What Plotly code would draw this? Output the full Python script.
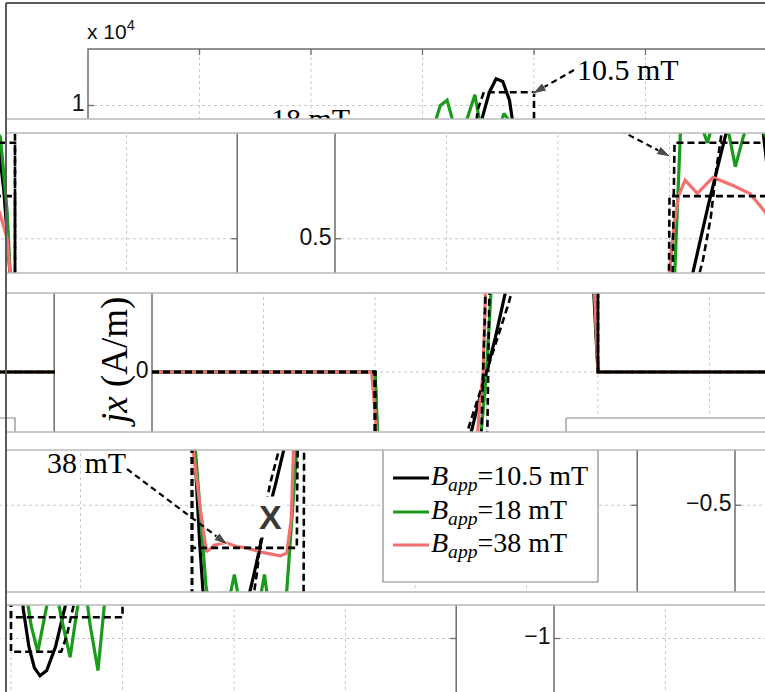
import plotly.graph_objects as go

# ------------------------------------------------------------------ data
x_grid_vals = [-2, -1, 0, 1, 2]
x_tick_vals = [-3, -2, -1, 0, 1, 2, 3]
y_tick_vals = [1, 0.5, 0, -0.5, -1]
y_tick_text = ["1", "0.5", "0", "\u22120.5", "\u22121"]

# simulated jx (x 1e4 A/m) versus position
sim105_x = [-3.0, -1.0, -0.975, -0.93, -0.89, -0.84, -0.79, -0.74, -0.68, -0.6, -0.52, -0.45, -0.35, -0.25,
            -0.17, -0.08, 0.0, 0.08, 0.17, 0.25, 0.35, 0.45, 0.52, 0.6, 0.66, 0.72, 0.78, 0.84, 0.9, 0.95,
            0.98, 1.0, 3.0]
sim105_j = [0.0, 0.0, -0.3, -0.65, -0.89, -1.03, -1.11, -1.14, -1.12, -1.03, -0.89, -0.77, -0.58, -0.42,
            -0.28, -0.13, 0.0, 0.13, 0.3, 0.45, 0.63, 0.8, 0.93, 1.05, 1.1, 1.09, 1.02, 0.9, 0.68, 0.4,
            0.15, 0.0, 0.0]

sim18_x = [-3.0, -1.0, -0.97, -0.92, -0.875, -0.82, -0.76, -0.69, -0.62, -0.55, -0.47, -0.41, -0.35, -0.29,
           -0.22, -0.15, -0.06, 0.0, 0.04, 0.07, 0.1, 0.16, 0.22, 0.28, 0.34, 0.4, 0.47, 0.53, 0.59, 0.66,
           0.73, 0.8, 0.87, 0.93, 0.97, 1.0, 3.0]
sim18_j = [0.0, 0.0, -0.29, -0.55, -0.8, -0.95, -1.05, -0.9, -0.76, -0.92, -1.07, -0.9, -0.76, -0.95,
           -1.12, -0.82, -0.29, 0.0, 0.3, 0.65, 0.92, 1.0, 1.02, 0.93, 0.86, 0.95, 1.04, 0.9, 0.77, 0.88,
           0.97, 0.93, 0.88, 0.6, 0.3, 0.0, 0.0]

sim38_x = [-3.0, -1.03, -1.0, -0.99, -0.93, -0.87, -0.8, -0.7, -0.6, -0.51, -0.39, -0.28, -0.21, -0.15,
           -0.11, -0.09, -0.06, -0.03, -0.01, 0.0, 0.04, 0.08, 0.14, 0.25, 0.39, 0.57, 0.72, 0.86, 0.93,
           0.97, 1.0, 3.0]
sim38_j = [0.0, 0.0, -0.15, -0.29, -0.5, -0.675, -0.65, -0.64, -0.655, -0.66, -0.675, -0.685, -0.69, -0.68,
           -0.55, -0.29, -0.12, 0.0, 0.3, 0.37, 0.55, 0.66, 0.72, 0.67, 0.73, 0.7, 0.67, 0.6, 0.5,
           0.3, 0.0, 0.0]

# critical-state (dashed) profiles
bean105_x = [-3.0, -1.0, -1.0, -0.55, -0.5, -0.46, -0.42, -0.37, -0.3, -0.2, -0.1, 0.0, 0.1, 0.2, 0.3,
             0.37, 0.42, 0.46, 0.5, 0.55, 1.0, 1.0, 3.0]
bean105_j = [0.0, 0.0, -1.05, -1.05, -0.99, -0.88, -0.76, -0.58, -0.42, -0.26, -0.13, 0.0, 0.13, 0.26, 0.42,
             0.58, 0.76, 0.88, 0.99, 1.05, 1.05, 0.0, 0.0]
bean18_x = [-3.0, -1.0, -1.0, 0.0, 0.005, 0.025, 0.045, 1.0, 1.0, 3.0]
bean18_j = [0.0, 0.0, -0.92, -0.92, -0.3, 0.3, 0.86, 0.86, 0.0, 0.0]
bean38_x = [-3.0, -1.0, -1.0, -0.06, -0.055, -0.04, -0.02, -0.005, 0.0, 1.0, 1.0, 3.0]
bean38_j = [0.0, 0.0, -0.66, -0.66, -0.35, -0.12, 0.12, 0.35, 0.66, 0.66, 0.0, 0.0]

legend_labels = ["<i>B</i><sub><i>app</i></sub>=10.5 mT",
                 "<i>B</i><sub><i>app</i></sub>=18 mT",
                 "<i>B</i><sub><i>app</i></sub>=38 mT"]
field_labels = ["10.5 mT", "18 mT", "38 mT"]
y_label = "<i>jx</i> (A/m)"
exponent_label = "x 10<sup>4</sup>"

# ------------------------------------------------------------------ styling / geometry
BLACK = "#000000"
GREEN = "#1c9a1c"
RED = "#f27070"
AXC = "#6e6e6e"
GRIDC = "#c9c9c9"
SEPC = "#b9b9b9"
SERIF = "Liberation Serif"
SANS = "Liberation Sans"

W, H = 765, 692
PERIOD = 766.0          # width of the original (unshifted) picture
U_ZERO = 431.5          # pixel column of x = 0 in the original
U_PER_X = 111.5
Y_ZERO = 372.0          # pixel row of jx = 0
Y_PER_J = 266.5


def ux(u):
    return (u - U_ZERO) / U_PER_X


def yj(y):
    return (Y_ZERO - y) / Y_PER_J


J_TOP = yj(49)
J_BOT = yj(696)
X_LEFT = -3.0
X_RIGHT = ux(765.2)

# horizontal strips: (top px, bottom px, pieces [(x0, x1, u0, u1)], right border drawn)
STRIPS = [
    (4, 119, [(0, W, 9, 9 + W)], False),
    (133, 273, [(0, 238, PERIOD - 238, PERIOD), (238, W, 0, W - 238)], True),
    (293, 432, [(0, 55, PERIOD - 55, PERIOD), (55, W, 0, W - 55)], True),
    (450, 592, [(0, 638, PERIOD - 638, PERIOD), (638, W, 0, W - 638)], True),
    (605, 692, [(0, 457, PERIOD - 457, PERIOD), (457, W, 0, W - 457)], True),
]


def text_tr(u, y, txt, pos, size, family, color="black"):
    return dict(x=[ux(u)], y=[yj(y)], mode="text", text=[txt], textposition=pos,
                textfont=dict(family=family, size=size, color=color))


def scene(right_border):
    els = []
    x_end = X_RIGHT if right_border else ux(790)
    # dotted grid
    gx, gy = [], []
    for xv in x_grid_vals:
        gx += [xv, xv, None]
        gy += [J_BOT, J_TOP, None]
    for yv in y_tick_vals:
        gx += [X_LEFT, x_end, None]
        gy += [yv, yv, None]
    els.append(dict(x=gx, y=gy, mode="lines", line=dict(color=GRIDC, width=1, dash="dot")))
    # ticks
    tx, ty = [], []
    dx, dj = 6 / U_PER_X, 6 / Y_PER_J
    for yv in y_tick_vals:
        tx += [X_LEFT, X_LEFT + dx, None]
        ty += [yv, yv, None]
        if right_border:
            tx += [X_RIGHT, X_RIGHT - dx, None]
            ty += [yv, yv, None]
    for xv in x_tick_vals[1:-1]:
        tx += [xv, xv, None]
        ty += [J_TOP, J_TOP - dj, None]
    els.append(dict(x=tx, y=ty, mode="lines", line=dict(color=AXC, width=1.3)))
    # box
    if right_border:
        bx, by = [X_LEFT, X_LEFT, X_RIGHT, X_RIGHT], [J_BOT, J_TOP, J_TOP, J_BOT]
    else:
        bx, by = [X_LEFT, X_LEFT, x_end], [J_BOT, J_TOP, J_TOP]
    els.append(dict(x=bx, y=by, mode="lines", line=dict(color=AXC, width=1.5)))
    # simulated profiles
    for xs, js, c in ((sim105_x, sim105_j, BLACK), (sim18_x, sim18_j, GREEN), (sim38_x, sim38_j, RED)):
        els.append(dict(x=xs, y=js, mode="lines", line=dict(color=c, width=3.2)))
    # critical-state profiles
    for xs, js in ((bean105_x, bean105_j), (bean18_x, bean18_j), (bean38_x, bean38_j)):
        els.append(dict(x=xs, y=js, mode="lines", line=dict(color=BLACK, width=2.6, dash="7px,4px")))
    # tick labels
    for yv, lab in zip(y_tick_vals, y_tick_text):
        els.append(text_tr(93.5, Y_ZERO - yv * Y_PER_J, lab, "middle left", 23, SANS, "#111111"))
    els.append(text_tr(96, 34, exponent_label, "middle right", 21, SANS, "#111111"))
    # field labels with arrows
    lab_pos = [(586, 72), (280, 121), (175, 465)]
    arr = [((583, 70), (541, 94)),
           ((364, 121), (433, 157)),
           ((255, 469), (356, 545))]
    for (lu, ly), lab, (p0, p1) in zip(lab_pos, field_labels, arr):
        els.append(text_tr(lu, ly, lab, "middle right", 30, SERIF))
        els.append(dict(x=[ux(p0[0]), ux(p1[0])], y=[yj(p0[1]), yj(p1[1])], mode="lines+markers",
                        line=dict(color="black", width=2.2, dash="6px,4px"),
                        marker=dict(size=[0, 15], symbol="arrow", angleref="previous", color="black")))
    # legend
    lx0, lx1 = ux(511), ux(726)
    ly0, ly1 = yj(418), yj(582)
    els.append(dict(x=[lx0, lx1, lx1, lx0, lx0], y=[ly0, ly0, ly1, ly1, ly0], mode="lines",
                    fill="toself", fillcolor="white", line=dict(color="#8a8a8a", width=1.2)))
    rows = [478, 512, 545]
    for r, c, lab in zip(rows, (BLACK, GREEN, RED), legend_labels):
        els.append(dict(x=[ux(521), ux(557)], y=[yj(r), yj(r)], mode="lines", line=dict(color=c, width=3.2)))
        els.append(text_tr(559, r, lab, "middle right", 28, SERIF))
    return els


fig = go.Figure()
layout = dict(width=W, height=H, margin=dict(l=0, r=0, t=0, b=0), paper_bgcolor="white",
              plot_bgcolor="white", showlegend=False)
sub = 0
for (yt, yb, pieces, rb) in STRIPS:
    elements = scene(rb)
    for (x0, x1, u0, u1) in pieces:
        sub += 1
        sx = "" if sub == 1 else str(sub)
        layout["xaxis" + sx] = dict(domain=[x0 / W, x1 / W], range=[ux(u0), ux(u1)], visible=False,
                                    fixedrange=True, anchor="y" + sx)
        layout["yaxis" + sx] = dict(domain=[1 - yb / H, 1 - yt / H], range=[yj(yb), yj(yt)],
                                    visible=False, fixedrange=True, anchor="x" + sx)
        for e in elements:
            fig.add_trace(go.Scatter(**e, xaxis="x" + sx, yaxis="y" + sx, hoverinfo="skip",
                                     cliponaxis=True))

shapes = []
for i, (yt, yb, pieces, rb) in enumerate(STRIPS):
    if i > 0:
        shapes.append(dict(type="line", xref="paper", yref="paper", x0=6 / W, x1=1, y0=1 - yt / H,
                           y1=1 - yt / H, line=dict(color=SEPC, width=1.6)))
    if yb < H:
        shapes.append(dict(type="line", xref="paper", yref="paper", x0=6 / W, x1=1, y0=1 - yb / H,
                           y1=1 - yb / H, line=dict(color=SEPC, width=1.6)))
shapes.append(dict(type="line", xref="paper", yref="paper", x0=6 / W, x1=6 / W, y0=0, y1=1 - 3 / H,
                   line=dict(color="#5a5a5a", width=2)))
shapes.append(dict(type="line", xref="paper", yref="paper", x0=6 / W, x1=1, y0=1 - 3 / H, y1=1 - 3 / H,
                   line=dict(color="#5a5a5a", width=2)))
layout["shapes"] = shapes

# rotated axis title (falls inside the third strip) and the grey X mark
layout["annotations"] = [
    dict(text=y_label, x=115 / W, y=1 - 362 / H, xref="paper", yref="paper", showarrow=False,
         textangle=-90, font=dict(family=SERIF, size=37, color="black"), xanchor="center", yanchor="middle"),
    dict(text="<b>X</b>", x=270 / W, y=1 - 517 / H, xref="paper", yref="paper", showarrow=False,
         font=dict(family="Liberation Sans", size=34, color="#383838"), bgcolor="white", xanchor="center",
         yanchor="middle", borderpad=1),
]
fig.update_layout(**layout)
fig.write_html("out.html", config={"displayModeBar": False},
               post_script="document.body.style.margin='0px';document.body.style.overflow='hidden';")
